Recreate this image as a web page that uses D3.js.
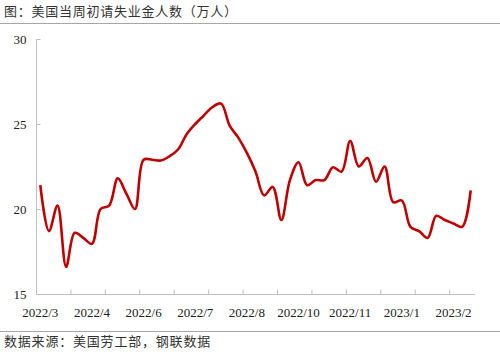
<!DOCTYPE html>
<html><head><meta charset="utf-8">
<script src="https://cdn.jsdelivr.net/npm/d3@7/dist/d3.min.js"></script>
<style>body{margin:0;background:#fff}svg{display:block}</style>
</head><body><svg id="c" width="500" height="357"></svg>
<script>
const title = "图：美国当周初请失业金人数（万人）";
const source = "数据来源：美国劳工部，钢联数据";
const values = [21.4,18.7,20.2,16.6,18.6,18.3,17.95,20.0,20.2,21.8,20.9,20.0,
  22.9,22.9,22.85,23.1,23.5,24.4,25.0,25.5,26.0,26.2,24.9,24.2,23.3,22.2,20.8,21.3,
  19.35,21.7,22.75,21.4,21.7,21.7,22.45,22.2,24.0,22.5,23.0,21.6,22.5,20.4,20.5,
  18.95,18.7,18.3,19.6,19.35,19.15,18.95,21.1];
const categories = values.map((d,i)=>i);
const tickLabels = ["2022/3","2022/4","2022/6","2022/7","2022/8","2022/10","2022/11","2023/1","2023/2"];
const yTicks = [15,20,25,30];

const svg = d3.select("#c");
const L=36, R=475, T=39, B=294;
const x = d3.scaleBand().domain(categories).range([L,R]);
const y = d3.scaleLinear().domain([15,30]).range([B,T]);

svg.append("text").attr("x",4).attr("y",16).attr("font-family","Noto Sans CJK SC")
  .attr("font-size",13).attr("letter-spacing",0.75).attr("fill","#333").text(title);
svg.append("line").attr("x1",0).attr("x2",500).attr("y1",23.5).attr("y2",23.5).attr("stroke","#a6a6a6");
svg.append("line").attr("x1",0).attr("x2",500).attr("y1",331.5).attr("y2",331.5).attr("stroke","#a6a6a6");
svg.append("text").attr("x",4).attr("y",346).attr("font-family","Noto Sans CJK SC")
  .attr("font-size",13).attr("letter-spacing",0.8).attr("fill","#333").text(source);

// y axis
const ya = svg.append("g").attr("transform",`translate(${L+0.5},0)`)
  .call(d3.axisLeft(y).tickValues(yTicks).tickSize(-4).tickPadding(10));
ya.select(".domain").attr("stroke","#bfbfbf").attr("d",`M0,${T}V${B}`);
ya.selectAll(".tick line").attr("stroke","#bfbfbf");
ya.selectAll("text").attr("font-family","Liberation Serif").attr("font-size",13).attr("fill","#222");

// x axis
const xa = svg.append("g").attr("transform",`translate(0,${B+0.5})`);
xa.append("line").attr("x1",L).attr("x2",R).attr("stroke","#bfbfbf");
const bw = x.bandwidth();
xa.selectAll("line.t").data(categories.filter(i=>i%4===0 && i>0).concat([0]))
  .join("line").attr("class","t")
  .attr("x1",d=>x(d)+0.5).attr("x2",d=>x(d)+0.5).attr("y1",0).attr("y2",-5).attr("stroke","#bfbfbf");
xa.selectAll("text").data(tickLabels).join("text")
  .attr("x",(d,i)=>x(categories[i*6])+bw/2).attr("y",22).attr("text-anchor","middle")
  .attr("font-family","Liberation Serif").attr("font-size",13).attr("fill","#222").text(d=>d);

const line = d3.line().x((d,i)=>x(categories[i])+bw/2).y(d=>y(d)).curve(d3.curveCatmullRom.alpha(0.5));
svg.append("path").datum(values).attr("d",line).attr("fill","none")
  .attr("stroke","#c00000").attr("stroke-width",2.6).attr("stroke-linejoin","round");
</script></body></html>
